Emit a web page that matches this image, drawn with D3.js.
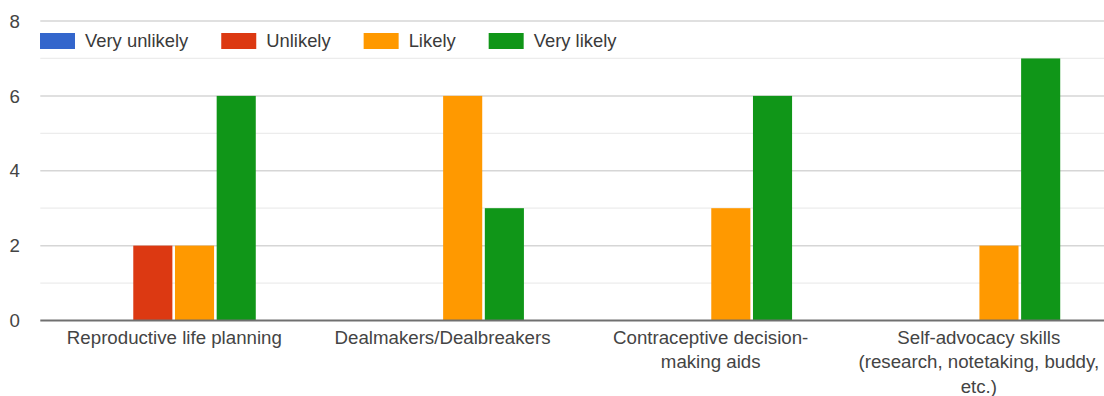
<!DOCTYPE html>
<html>
<head>
<meta charset="utf-8">
<script src="https://cdn.jsdelivr.net/npm/d3@7"></script>
<style>
  html, body { margin: 0; padding: 0; background: #fff; }
  svg { display: block; font-family: Arial, "Liberation Sans", sans-serif; }
</style>
</head>
<body>
<svg id="chart" width="1104" height="396"></svg>
<script>
// Survey responses per topic, grouped by likelihood rating
const categories = [
  "Reproductive life planning",
  "Dealmakers/Dealbreakers",
  "Contraceptive decision-making aids",
  "Self-advocacy skills (research, notetaking, buddy, etc.)"
];
const categoryLines = [
  ["Reproductive life planning"],
  ["Dealmakers/Dealbreakers"],
  ["Contraceptive decision-", "making aids"],
  ["Self-advocacy skills", "(research, notetaking, buddy,", "etc.)"]
];
const seriesNames = ["Very unlikely", "Unlikely", "Likely", "Very likely"];
const veryUnlikely = [0, 0, 0, 0];
const unlikely = [2, 0, 0, 0];
const likely = [2, 6, 3, 2];
const veryLikely = [6, 3, 6, 7];
const yTicks = [0, 2, 4, 6, 8];
const yMinorTicks = [1, 3, 5, 7];
const seriesColors = ["#3366cc", "#dc3912", "#ff9900", "#109618"];

const seriesValues = [veryUnlikely, unlikely, likely, veryLikely];

const svg = d3.select("#chart");
const W = 1104, H = 396;
const plot = { left: 40.3, right: 1112.9, top: 21, bottom: 320.5 };

const y = d3.scaleLinear().domain([0, 8]).range([plot.bottom, plot.top]);
const x0 = d3.scaleBand()
  .domain(categories)
  .range([plot.left, plot.right])
  .paddingInner(0.378)
  .paddingOuter(0.189);
const x1 = d3.scaleBand()
  .domain(seriesNames)
  .range([0, x0.bandwidth()])
  .padding(0);
const color = d3.scaleOrdinal().domain(seriesNames).range(seriesColors);

const clip = svg.append("g");

// minor gridlines
clip.append("g").selectAll("line").data(yMinorTicks).join("line")
  .attr("x1", plot.left).attr("x2", W)
  .attr("y1", d => y(d)).attr("y2", d => y(d))
  .attr("stroke", "#ececec").attr("stroke-width", 1.2);

// major gridlines
clip.append("g").selectAll("line").data(yTicks.filter(d => d !== 0)).join("line")
  .attr("x1", plot.left).attr("x2", W)
  .attr("y1", d => y(d)).attr("y2", d => y(d))
  .attr("stroke", "#d6d6d6").attr("stroke-width", 1.5);

// y tick labels
svg.append("g").selectAll("text").data(yTicks).join("text")
  .attr("x", 20).attr("y", d => y(d))
  .attr("dy", "0.36em")
  .attr("text-anchor", "end")
  .attr("font-size", 18.7)
  .attr("fill", "#444")
  .text(d => d);

// bars
const rows = categories.map((c, i) => ({
  cat: c,
  vals: seriesNames.map((s, j) => ({ s, v: seriesValues[j][i] }))
}));
const groups = svg.append("g").selectAll("g").data(rows).join("g")
  .attr("transform", d => `translate(${x0(d.cat)},0)`);
groups.selectAll("rect").data(d => d.vals.filter(e => e.v > 0)).join("rect")
  .attr("x", d => x1(d.s) + 0.6)
  .attr("width", x1.bandwidth() - 2.6)
  .attr("y", d => y(d.v))
  .attr("height", d => y(0) - y(d.v))
  .attr("fill", d => color(d.s));

// baseline
svg.append("line")
  .attr("x1", plot.left).attr("x2", W)
  .attr("y1", y(0)).attr("y2", y(0))
  .attr("stroke", "#707070").attr("stroke-width", 2);

// category labels
const labels = svg.append("g").selectAll("text").data(categories).join("text")
  .attr("x", d => x0(d) + x0.bandwidth() / 2)
  .attr("y", 344)
  .attr("text-anchor", "middle")
  .attr("font-size", 18.7)
  .attr("fill", "#444");
labels.each(function(d, i) {
  d3.select(this).selectAll("tspan").data(categoryLines[i]).join("tspan")
    .attr("x", x0(d) + x0.bandwidth() / 2)
    .attr("dy", (t, k) => k === 0 ? 0 : 24.4)
    .text(t => t);
});

// legend
const legend = svg.append("g");
let lx = 40;
seriesNames.forEach((s, i) => {
  legend.append("rect")
    .attr("x", lx).attr("y", 33)
    .attr("width", 35).attr("height", 16)
    .attr("fill", color(s));
  const t = legend.append("text")
    .attr("x", lx + 45).attr("y", 47)
    .attr("font-size", 18.4)
    .attr("fill", "#3a3a3a")
    .text(s);
  lx = lx + 45 + t.node().getComputedTextLength() + 33;
});
</script>
</body>
</html>
